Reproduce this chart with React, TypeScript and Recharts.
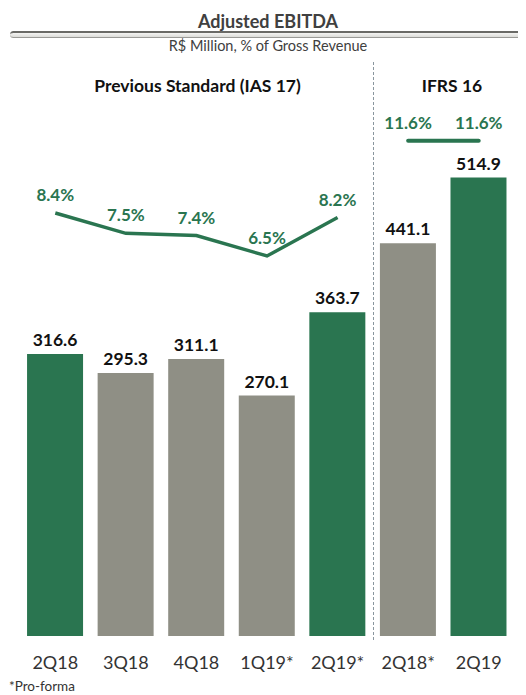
import React from 'react';
import {
  ComposedChart,
  Bar,
  Line,
  XAxis,
  YAxis,
  Cell,
  LabelList
} from 'recharts';

const quarters = ['2Q18', '3Q18', '4Q18', '1Q19*', '2Q19*', '2Q18*', '2Q19'];
const ebitda = [316.6, 295.3, 311.1, 270.1, 363.7, 441.1, 514.9];
const highlighted = [true, false, false, false, true, false, true];
const marginIas17 = [8.4, 7.5, 7.4, 6.5, 8.2, null, null];
const marginIfrs16 = [null, null, null, null, null, 11.6, 11.6];

const GREEN = '#2a7550';
const GRAY = '#8f8f85';
const FONT = 'Lato, "Open Sans", sans-serif';

const data = quarters.map((q, i) => ({
  quarter: q,
  ebitda: ebitda[i],
  ias17: marginIas17[i],
  ifrs16: marginIfrs16[i]
}));

const pct = (v: any) => (v == null ? '' : `${Number(v).toFixed(1)}%`);
const num = (v: any) => Number(v).toFixed(1);

export default function App() {
  return (
    <div style={{ position: 'relative', width: 526, height: 695, margin: '-8px 0 0 -8px', fontFamily: FONT, background: '#fff' }}>
      <div style={{ position: 'absolute', top: 10, left: 0, width: 536, textAlign: 'center', fontWeight: 700, fontSize: 18, lineHeight: '22px', color: '#404040' }}>
        Adjusted EBITDA
      </div>
      <div
        style={{
          position: 'absolute',
          top: 31,
          left: 10,
          width: 516,
          height: 4,
          borderTop: '2px solid #6a6a66',
          borderBottom: '1px solid #9a9a96',
          background: 'linear-gradient(#f4f4f2, #dcdcd8)',
          borderTopLeftRadius: 4,
          borderBottomLeftRadius: 4
        }}
      />
      <div style={{ position: 'absolute', top: 37, left: 0, width: 536, textAlign: 'center', fontSize: 14.5, lineHeight: '17px', color: '#404040' }}>
        R$ Million, % of Gross Revenue
      </div>
      <div style={{ position: 'absolute', top: 75, left: 80, width: 235, textAlign: 'center', fontWeight: 700, fontSize: 17.5, lineHeight: '21px', color: '#111' }}>
        Previous Standard (IAS 17)
      </div>
      <div style={{ position: 'absolute', top: 75, left: 405, width: 94, textAlign: 'center', fontWeight: 700, fontSize: 17.5, lineHeight: '21px', color: '#111' }}>
        IFRS 16
      </div>
      <div style={{ position: 'absolute', top: 62, left: 373, height: 578, borderLeft: '1.5px dashed #8a969e' }} />

      <div style={{ position: 'absolute', top: 0, left: 0 }}>
        <ComposedChart
          width={526}
          height={695}
          data={data}
          margin={{ top: 84, right: 12, left: 20, bottom: 29 }}
          barCategoryGap="10%"
        >
          <XAxis
            dataKey="quarter"
            axisLine={false}
            tickLine={false}
            tickMargin={14}
            interval={0}
            tick={{ fill: '#333', fontSize: 18, fontFamily: FONT }}
          />
          <YAxis yAxisId="bars" hide domain={[0, 620]} />
          <YAxis yAxisId="pct" hide domain={[-10.32, 14.11]} />
          <Bar yAxisId="bars" dataKey="ebitda" isAnimationActive={false}>
            {data.map((d, i) => (
              <Cell key={d.quarter} fill={highlighted[i] ? GREEN : GRAY} />
            ))}
            <LabelList
              dataKey="ebitda"
              position="top"
              offset={8}
              formatter={num}
              style={{ fill: '#111', fontSize: 17.5, fontWeight: 700, fontFamily: FONT }}
            />
          </Bar>
          <Line
            yAxisId="pct"
            dataKey="ias17"
            stroke={GREEN}
            strokeWidth={3.5}
            dot={false}
            activeDot={false}
            isAnimationActive={false}
          >
            <LabelList
              dataKey="ias17"
              position="top"
              offset={12}
              formatter={pct}
              style={{ fill: GREEN, fontSize: 17, fontWeight: 700, fontFamily: FONT }}
            />
          </Line>
          <Line
            yAxisId="pct"
            dataKey="ifrs16"
            stroke={GREEN}
            strokeWidth={4}
            strokeLinecap="round"
            dot={false}
            activeDot={false}
            isAnimationActive={false}
          >
            <LabelList
              dataKey="ifrs16"
              position="top"
              offset={12}
              formatter={pct}
              style={{ fill: GREEN, fontSize: 17, fontWeight: 700, fontFamily: FONT }}
            />
          </Line>
        </ComposedChart>
      </div>

      <div style={{ position: 'absolute', top: 679, left: 9, fontSize: 13.5, lineHeight: '15px', color: '#333', zIndex: 5 }}>*Pro-forma</div>
    </div>
  );
}
